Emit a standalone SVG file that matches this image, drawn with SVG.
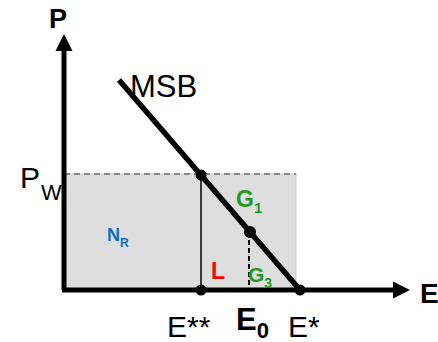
<svg xmlns="http://www.w3.org/2000/svg" width="438" height="342" viewBox="0 0 438 342">
<style>
text{font-family:"Liberation Sans",Arial,sans-serif}
.b{font-weight:bold}
.g{fill:#1f9a1f;font-weight:bold}
.dot{fill:#000}
</style>
<defs>
<marker id="ah" viewBox="0 0 10 10" refX="0" refY="5" markerWidth="3.4" markerHeight="3.6" markerUnits="strokeWidth" orient="auto">
<path d="M0,0L10,5L0,10Z" fill="#000"/>
</marker>
</defs>
<g id="area">
<rect x="64" y="174" width="232" height="116" fill="#dedede" stroke="#cfcfcf" stroke-width="1"/>
<line x1="64" y1="174" x2="296" y2="174" stroke="#8a8a8a" stroke-width="2" stroke-dasharray="6,4"/>
</g>
<g id="connectors">
<line x1="64" y1="290" x2="64" y2="51" stroke="#000" stroke-width="5" marker-end="url(#ah)"/>
<line x1="62" y1="290" x2="393" y2="290" stroke="#000" stroke-width="5" marker-end="url(#ah)"/>
<line x1="201" y1="174" x2="201" y2="290" stroke="#000" stroke-width="1.5"/>
<line x1="249" y1="232" x2="249" y2="290" stroke="#000" stroke-width="2" stroke-dasharray="5,3"/>
<line id="msb" x1="119" y1="80" x2="300" y2="290" stroke="#000" stroke-width="5.5"/>
</g>
<g id="dots">
<circle class="dot" cx="201" cy="175" r="5.5"/>
<circle class="dot" cx="250" cy="232" r="6"/>
<circle class="dot" cx="201" cy="290" r="5.5"/>
<circle class="dot" cx="300" cy="290" r="5.5"/>
</g>
<g id="labels">
<text class="b" x="49" y="28" font-size="27">P</text>
<text x="130" y="97" font-size="31">MSB</text>
<text x="20" y="188" font-size="30">P</text>
<text x="41" y="200" font-size="22">W</text>
<text x="107" y="241" font-size="18" class="b" fill="#0a72c4">N<tspan font-size="12" dy="6">R</tspan></text>
<text x="236" y="207" font-size="23" class="g">G<tspan font-size="15" dy="6">1</tspan></text>
<text x="211" y="279" font-size="23" class="b" fill="#ff0000">L</text>
<text x="248" y="282" font-size="21" class="g">G<tspan font-size="14" dy="6">3</tspan></text>
<text x="167" y="337" font-size="30">E**</text>
<text x="236" y="330" font-size="31" class="b">E<tspan font-size="22" dy="8">0</tspan></text>
<text x="288" y="337" font-size="30">E*</text>
<text x="420" y="303" font-size="28" class="b">E</text>
</g>
</svg>
